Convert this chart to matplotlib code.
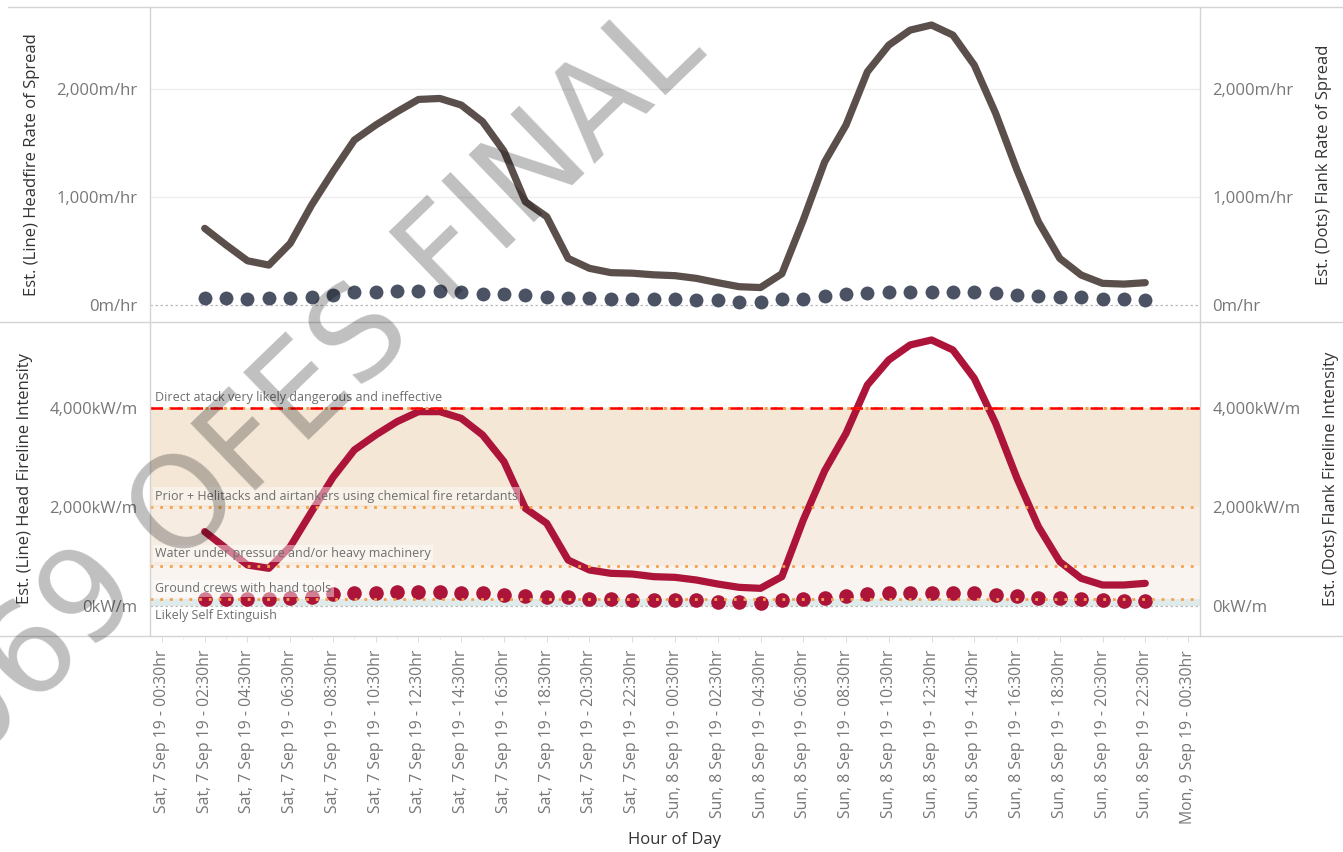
import matplotlib
matplotlib.use("Agg")
import matplotlib.pyplot as plt
from matplotlib.lines import Line2D
from matplotlib.ticker import FuncFormatter, MultipleLocator
import numpy as np
import pandas as pd

plt.rcParams['font.family'] = ['Open Sans', 'DejaVu Sans']

# hourly estimates, Sat 7 Sep 19 02:30 -> Sun 8 Sep 19 22:30
times = pd.date_range("2019-09-07 02:30", periods=45, freq="h")
head_ros = [710, 556, 410, 370, 571, 926, 1235, 1528, 1667, 1790, 1904, 1913, 1852, 1698, 1425,
            957, 818, 432, 340, 300, 295, 280, 272, 247, 207, 170, 162, 290, 787, 1325,
            1667, 2160, 2407, 2546, 2593, 2500, 2222, 1775, 1250, 771, 432, 278, 201, 194, 207]
flank_ros = [62, 62, 53, 62, 62, 77, 93, 117, 120, 133, 133, 133, 117, 105, 105,
             93, 77, 68, 62, 56, 56, 56, 56, 46, 46, 31, 31, 56, 56, 80,
             99, 108, 117, 117, 117, 117, 117, 108, 93, 83, 71, 71, 56, 56, 46]
head_fi = [1502, 1165, 828, 761, 1199, 1906, 2599, 3152, 3455, 3724, 3926, 3926, 3791, 3455, 2916,
           1973, 1670, 929, 727, 660, 646, 593, 579, 525, 444, 377, 357, 593, 1737, 2730,
           3488, 4465, 4970, 5273, 5374, 5172, 4599, 3690, 2579, 1603, 896, 559, 424, 424, 458]
flank_fi = [135, 135, 135, 135, 155, 175, 242, 256, 256, 290, 290, 290, 256, 256, 230,
            202, 175, 175, 148, 148, 121, 121, 121, 121, 88, 88, 70, 121, 148, 170,
            209, 236, 256, 269, 256, 256, 256, 222, 202, 168, 168, 141, 121, 108, 108]

# suppression thresholds (kW/m)
band_edges = [0, 140, 800, 2000, 4000]
band_colors = ['#deebea', '#f9f4ef', '#f6ece1', '#f4e7d6']
band_labels = ['Likely Self Extinguish', 'Ground crews with hand tools',
               'Water under pressure and/or heavy machinery',
               'Prior + Helitacks and airtankers using chemical fire retardants',
               'Direct atack very likely dangerous and ineffective']

start = pd.Timestamp("2019-09-07 00:30")
tick_times = pd.date_range(start, periods=25, freq="2h")
tick_labels = [f"{d:%a}, {d.day} {d:%b %y} - {d:%H:%M}hr" for d in tick_times]

x = (times - start) / pd.Timedelta(hours=1)
xt = (tick_times - start) / pd.Timedelta(hours=1)

W, H = 1343, 852
fig = plt.figure(figsize=(W / 100, H / 100), dpi=100)

def px_axes(l, t, r, b):
    return fig.add_axes([l / W, 1 - b / H, (r - l) / W, (b - t) / H])

ax1 = px_axes(150, 7, 1200, 322)
ax2 = px_axes(150, 322, 1200, 636)

line_col = '#5b4f4b'
dot_col = '#4a5263'
red = '#ad1439'
orange = '#f7a04c'
grey_txt = '#777777'
title_col = '#333333'

# ---- top panel
ax1.set_ylim(-157, 2760)
ax1.set_yticks([0, 1000, 2000])
for v in [1000, 2000]:
    ax1.axhline(v, color='#eeeeee', lw=1, zorder=0)
ax1.axhline(0, color='#bbbbbb', lw=0.9, ls=(0, (2, 2)), zorder=1)
ax1.plot(x, head_ros, color=line_col, lw=5.2, solid_capstyle='round', solid_joinstyle='round', zorder=3)
ax1t = ax1.twinx()
ax1t.set_ylim(ax1.get_ylim())
ax1t.set_yticks([0, 1000, 2000])
ax1t.plot(x, flank_ros, 'o', color=dot_col, ms=10, mew=0, zorder=3)
ax1.yaxis.set_major_formatter(FuncFormatter(lambda v, p: f"{v:,.0f}m/hr"))
ax1t.yaxis.set_major_formatter(FuncFormatter(lambda v, p: f"{v:,.0f}m/hr"))
ax1.set_ylabel('Est. (Line) Headfire Rate of Spread', color=title_col, fontsize=12, labelpad=12)
ax1t.set_ylabel('Est. (Dots) Flank Rate of Spread', color=title_col, fontsize=12, labelpad=16)

# ---- bottom panel
ax2.set_ylim(-606, 5737)
ax2.set_yticks([0, 2000, 4000])
for i in range(len(band_colors)):
    ax2.axhspan(band_edges[i], band_edges[i + 1], color=band_colors[i], lw=0, zorder=0)
ax2.axhline(0, color='#bbbbbb', lw=0.9, ls=(0, (2, 2)), zorder=1)
ax2.plot(x, head_fi, color=red, lw=5.2, solid_capstyle='round', solid_joinstyle='round', zorder=3)
ax2t = ax2.twinx()
ax2t.set_ylim(ax2.get_ylim())
ax2t.set_yticks([0, 2000, 4000])
ax2t.plot(x, flank_fi, 'o', color=red, ms=10.5, mew=0, zorder=3)
for v in band_edges[1:4]:
    ax2t.axhline(v, color=orange, lw=2, ls=(0, (1, 2.5)), zorder=4)
ax2t.axhline(band_edges[4], color=orange, lw=2.2, ls=(0, (1, 2)), zorder=4)
ax2t.axhline(band_edges[4], color='#ff0000', lw=1.8, ls=(0, (5, 3)), zorder=5)
ax2.yaxis.set_major_formatter(FuncFormatter(lambda v, p: f"{v:,.0f}kW/m"))
ax2t.yaxis.set_major_formatter(FuncFormatter(lambda v, p: f"{v:,.0f}kW/m"))
ax2.set_ylabel('Est. (Line) Head Fireline Intensity', color=title_col, fontsize=12, labelpad=12)
ax2t.set_ylabel('Est. (Dots) Flank Fireline Intensity', color=title_col, fontsize=12, labelpad=16)

# band labels
lab_y = [-200, 360, 1060, 2220, 4210]
for txt, yv in zip(band_labels, lab_y):
    ax2t.text(0.25 - 0.56, yv, txt, fontsize=9, color='#6e6e6e', va='center', ha='left', zorder=6,
              bbox=dict(facecolor='white', alpha=0.45, edgecolor='none', pad=1.5))

for a in [ax1, ax1t, ax2, ax2t]:
    a.set_xlim(-0.56, 48.56)
    for s in a.spines.values():
        s.set_visible(False)
    a.tick_params(axis='y', length=0, labelsize=12, labelcolor=grey_txt, pad=9)

ax1.tick_params(axis='x', which='both', length=0, labelbottom=False)
ax1t.tick_params(axis='x', which='both', length=0)
ax2t.tick_params(axis='x', which='both', length=0)
ax2.set_xticks(xt)
ax2.set_xticklabels(tick_labels, rotation=90, fontsize=11.3, color=grey_txt)
ax2.xaxis.set_minor_locator(MultipleLocator(1))
ax2.tick_params(axis='x', which='major', length=4, color='#dddddd', pad=6)
ax2.tick_params(axis='x', which='minor', length=3, color='#eeeeee')
ax2.set_xlabel('Hour of Day', color=title_col, fontsize=12, labelpad=6)

# frame lines
fc = '#d4d4d4'
for yy in [7, 322, 636]:
    fig.add_artist(Line2D([0 if yy > 7 else 8 / W, 1], [1 - yy / H] * 2, color=fc, lw=1))
for xx in [150, 1200]:
    fig.add_artist(Line2D([xx / W] * 2, [1 - 7 / H, 1 - 636 / H], color=fc, lw=1))

# watermark
fig.text(315 / W, 1 - 385 / H, '069 OFES FINAL', fontsize=92, color='black', alpha=0.25,
         rotation=44, rotation_mode='anchor', ha='center', va='center', family='DejaVu Sans', zorder=10)

fig.savefig('out.png', dpi=100)
